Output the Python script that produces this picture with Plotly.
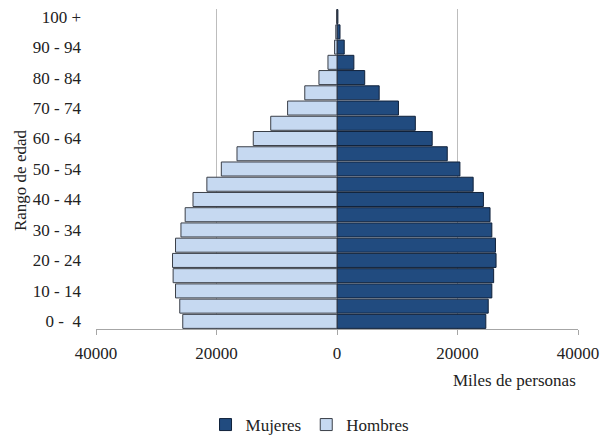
import plotly.graph_objects as go

# Age groups, bottom to top
grupos = ["0 - 4", "5 - 9", "10 - 14", "15 - 19", "20 - 24", "25 - 29", "30 - 34",
          "35 - 39", "40 - 44", "45 - 49", "50 - 54", "55 - 59", "60 - 64", "65 - 69",
          "70 - 74", "75 - 79", "80 - 84", "85 - 89", "90 - 94", "95 - 99", "100 +"]

# Thousands of people per age group
mujeres = [24700, 25100, 25700, 26000, 26400, 26300, 25700, 25400, 24300, 22600, 20400,
           18300, 15800, 13000, 10200, 7000, 4600, 2800, 1200, 500, 150]
hombres = [25600, 26100, 26800, 27200, 27300, 26800, 25900, 25200, 23900, 21600, 19200,
           16600, 13900, 11000, 8200, 5350, 3000, 1500, 400, 200, 50]

# Only every other group is labelled on the axis
etiquetas = ["0 -  4", "10 - 14", "20 - 24", "30 - 34", "40 - 44", "50 - 54",
             "60 - 64", "70 - 74", "80 - 84", "90 - 94", "100 +"]

ticks_x = [-40000, -20000, 0, 20000, 40000]
ticks_x_texto = ["40000", "20000", "0", "20000", "40000"]

fuente = "Liberation Serif"
tam = 17

fig = go.Figure()
fig.add_trace(go.Bar(
    y=grupos, x=mujeres, orientation="h", name="Mujeres",
    marker=dict(color="#214b7f", line=dict(color="#10213a", width=1)),
))
fig.add_trace(go.Bar(
    y=grupos, x=[-v for v in hombres], orientation="h", name="Hombres",
    marker=dict(color="#c6d9f1", line=dict(color="#3a3f48", width=1)),
))

fig.update_layout(
    width=602, height=439,
    margin=dict(l=96, r=24, t=9, b=110, autoexpand=False),
    paper_bgcolor="white", plot_bgcolor="white",
    barmode="overlay", bargap=0.08,
    font=dict(family=fuente, size=tam, color="#222222"),
    showlegend=True,
    legend=dict(orientation="h", xref="container", yref="container",
                x=0.515, xanchor="center", y=1 - 425 / 439, yanchor="middle",
                font=dict(family=fuente, size=tam), traceorder="normal",
                itemwidth=30, tracegroupgap=0),
    xaxis=dict(
        range=[-40000, 40000], tickvals=ticks_x, ticktext=ticks_x_texto,
        showgrid=True, gridcolor="#bdbdbd", gridwidth=1,
        showline=True, linecolor="#a6a6a6", linewidth=1,
        ticks="outside", ticklen=5, tickcolor="#a6a6a6",
        zeroline=False, fixedrange=True, ticklabelstandoff=4,
        tickfont=dict(family=fuente, size=tam),
    ),
    yaxis=dict(
        type="category", categoryorder="array", categoryarray=grupos,
        tickvals=grupos[::2], ticktext=etiquetas,
        showgrid=False, showline=False, ticks="", ticklabelstandoff=14,
        tickfont=dict(family=fuente, size=tam),
    ),
    annotations=[
        dict(text="Miles de personas", xref="paper", yref="paper", x=1.0, y=-0.16,
             xanchor="right", yanchor="middle", showarrow=False,
             font=dict(family=fuente, size=tam)),
        dict(text="Rango de edad", xref="paper", yref="paper", x=-0.158, y=0.465,
             xanchor="center", yanchor="middle", textangle=-90, showarrow=False,
             font=dict(family=fuente, size=tam)),
    ],
)

fig.write_html("out.html")
